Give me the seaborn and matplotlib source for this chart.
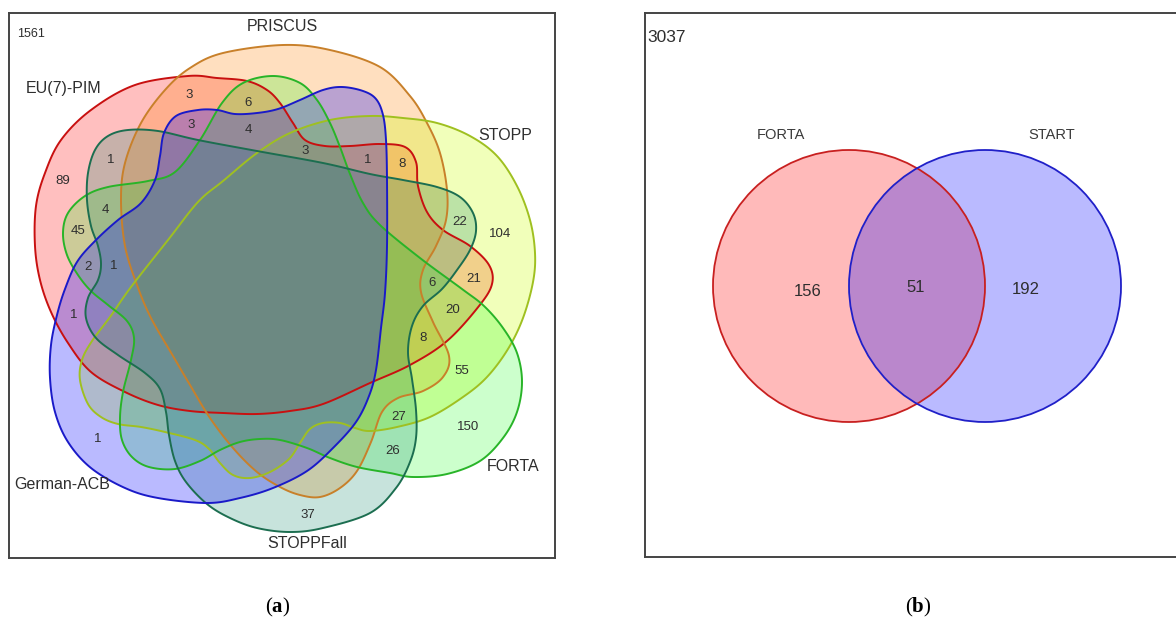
import numpy as np
import matplotlib
matplotlib.use("Agg")
import matplotlib.pyplot as plt
from matplotlib.patches import Polygon, Ellipse
import seaborn as sns

# ---------------- data ----------------
# (a) six-list overlap of potentially inappropriate medication lists
sets_a = ["EU(7)-PIM", "PRISCUS", "STOPP", "FORTA", "STOPPFall", "German-ACB"]
region_counts_a = [3, 6, 3, 4, 3, 1, 8, 1, 89, 4, 45, 2, 1,
                   22, 104, 6, 21, 20, 8, 55, 27, 150, 26, 37, 1, 1]
outside_a = 1561

# (b) FORTA vs START
sets_b = ["FORTA", "START"]
region_counts_b = [156, 51, 192]   # FORTA only, both, START only
outside_b = 3037

# ---------------- layout ----------------
# outline nodes of each set shape (panel units, y grows downward)
outline_nodes = {
    "EU(7)-PIM": [(188, 76), (217, 78), (247, 81), (267, 90), (280, 103), (293, 123), (305, 140),
                  (325, 146), (350, 146), (380, 144), (405, 147), (416, 162), (418, 186), (427, 212),
                  (443, 230), (470, 246), (489, 265), (492, 284), (479, 306), (447, 341), (410, 365),
                  (370, 383), (323, 404), (290, 411), (257, 414), (223, 413), (190, 411), (158, 405),
                  (125, 392), (91, 372), (68, 343), (51, 312), (40, 280), (35, 246), (36, 206),
                  (45, 173), (61, 140), (91, 110), (135, 85)],
    "PRISCUS": [(190, 68), (223, 53), (283, 45), (330, 50), (380, 67), (410, 96), (427, 123),
                (440, 153), (447, 190), (446, 220), (436, 246), (423, 270), (421, 292), (433, 322),
                (449, 356), (443, 377), (423, 391), (398, 398), (382, 412), (371, 442), (357, 471),
                (340, 488), (320, 497), (300, 495), (280, 487), (257, 472), (233, 448), (210, 418),
                (190, 385), (173, 356), (151, 318), (137, 285), (125, 246), (121, 200), (125, 163),
                (141, 123), (165, 90)],
    "STOPP": [(131, 287), (168, 240), (198, 202), (223, 181), (257, 153), (290, 133), (330, 120),
              (370, 116), (403, 118), (437, 123), (470, 136), (497, 156), (517, 186), (530, 220),
              (535, 253), (533, 282), (523, 318), (508, 349), (487, 377), (463, 397), (430, 417),
              (397, 427), (370, 431), (355, 428), (340, 423), (323, 423), (310, 429), (300, 443),
              (289, 459), (270, 472), (250, 478), (233, 475), (220, 463), (209, 449), (195, 440),
              (165, 432), (141, 427), (118, 424), (101, 417), (88, 404), (80, 380), (82, 360),
              (92, 341), (110, 317)],
    "FORTA": [(175, 172), (200, 140), (222, 103), (243, 83), (273, 76), (300, 83), (317, 100),
              (330, 123), (340, 147), (350, 174), (363, 203), (380, 225), (420, 258), (462, 289),
              (484, 306), (503, 328), (517, 353), (522, 382), (517, 412), (503, 438), (480, 461),
              (447, 474), (413, 477), (390, 473), (357, 467), (330, 458), (307, 448), (280, 440),
              (260, 439), (240, 442), (220, 450), (200, 461), (175, 469), (149, 467), (132, 457),
              (122, 440), (120, 418), (123, 392), (131, 360), (134, 338), (127, 321), (108, 305),
              (91, 291), (78, 275), (67, 255), (63, 233), (68, 213), (85, 196), (108, 187),
              (148, 181)],
    "STOPPFall": [(128, 130), (158, 131), (198, 140), (257, 151), (323, 163), (370, 174),
                  (403, 180), (437, 187), (460, 197), (473, 213), (476, 231), (470, 250), (457, 270),
                  (442, 289), (423, 306), (412, 326), (408, 352), (412, 379), (416, 410), (416, 438),
                  (410, 462), (396, 488), (370, 513), (323, 528), (290, 532), (257, 528), (230, 518),
                  (207, 504), (186, 482), (175, 461), (169, 435), (166, 412), (160, 389), (145, 373),
                  (118, 355), (96, 338), (86, 318), (88, 298), (98, 280), (101, 264), (98, 246),
                  (91, 226), (87, 200), (88, 173), (95, 150), (108, 136)],
    "German-ACB": [(198, 110), (217, 110), (235, 114), (257, 113), (278, 109), (300, 100),
                   (323, 90), (342, 87), (363, 91), (376, 99), (383, 115), (386, 140), (387, 180),
                   (387, 246), (385, 293), (381, 328), (376, 370), (369, 396), (356, 422), (333, 448),
                   (307, 471), (273, 488), (240, 498), (207, 503), (158, 498), (125, 488), (91, 468),
                   (68, 442), (55, 412), (50, 378), (51, 345), (57, 315), (65, 289), (77, 262),
                   (95, 241), (118, 220), (141, 203), (155, 180), (160, 156), (164, 133), (176, 116)],
}
fill_colors = {"EU(7)-PIM": "#ff0000", "PRISCUS": "#ff8000", "STOPP": "#ccff00",
               "FORTA": "#00ff00", "STOPPFall": "#008060", "German-ACB": "#0000ff"}
fill_alpha = {"EU(7)-PIM": 0.25, "PRISCUS": 0.25, "STOPP": 0.27,
              "FORTA": 0.20, "STOPPFall": 0.22, "German-ACB": 0.27}
edge_colors = {"EU(7)-PIM": "#c81010", "PRISCUS": "#c8802a", "STOPP": "#9fc020",
               "FORTA": "#28b428", "STOPPFall": "#1c6e50", "German-ACB": "#1a1ac8"}
name_pos_a = [(64, 89), (282, 27), (505, 136), (513, 467), (307, 544), (62, 485)]
region_pos_a = [(189, 95), (248, 103), (191, 125), (248, 130), (305, 151), (368, 160),
                (402, 164), (111, 160), (63, 181), (105, 210), (78, 231), (88, 267),
                (114, 266), (460, 222), (500, 234), (432, 283), (474, 279), (453, 310),
                (423, 338), (462, 371), (399, 417), (468, 427), (393, 451), (308, 515),
                (74, 315), (98, 439)]

ellipses_b = [((849, 286), 272, 272), ((985, 286), 272, 272)]
colors_b = [("#ff0000", "#c82020"), ("#0000ff", "#2020c8")]
name_pos_b = [(781, 135), (1052, 135)]
region_pos_b = [(808, 292), (916, 288), (1026, 290)]


def closed_spline(nodes, per_seg=24):
    """Closed Catmull-Rom curve through the given nodes."""
    p = np.asarray(nodes, dtype=float)
    n = len(p)
    t = np.linspace(0, 1, per_seg, endpoint=False)[:, None]
    out = []
    for i in range(n):
        p0, p1, p2, p3 = p[i - 1], p[i], p[(i + 1) % n], p[(i + 2) % n]
        seg = 0.5 * ((2 * p1) + (-p0 + p2) * t + (2 * p0 - 5 * p1 + 4 * p2 - p3) * t ** 2
                     + (-p0 + 3 * p1 - 3 * p2 + p3) * t ** 3)
        out.append(seg)
    return np.vstack(out)


# ---------------- style ----------------
sns.set_theme(style="white")
plt.rcParams["font.family"] = ["Liberation Sans", "DejaVu Sans"]
plt.rcParams["mathtext.fontset"] = "custom"
plt.rcParams["mathtext.rm"] = "Liberation Serif"
plt.rcParams["mathtext.bf"] = "Liberation Serif:bold"

W, H = 1176, 624
fig = plt.figure(figsize=(W / 100, H / 100), dpi=100)
fig.patch.set_facecolor("white")


def panel(x0, y0, x1, y1):
    ax = fig.add_axes([x0 / W, 1 - y1 / H, (x1 - x0) / W, (y1 - y0) / H])
    ax.set_xlim(x0, x1)
    ax.set_ylim(y1, y0)
    ax.set_xticks([])
    ax.set_yticks([])
    for s in ax.spines.values():
        s.set_visible(True)
        s.set_color("#444444")
        s.set_linewidth(1.4)
    ax.set_facecolor("white")
    return ax


txt_col = "#2e2e2e"

# ---- panel (a) ----
ax = panel(9, 13, 555, 558)
curves = {name: closed_spline(outline_nodes[name]) for name in sets_a}
for name in sets_a:
    ax.add_patch(Polygon(curves[name], closed=True, facecolor=fill_colors[name],
                         alpha=fill_alpha[name], edgecolor="none"))
for name in sets_a:
    ax.add_patch(Polygon(curves[name], closed=True, facecolor="none",
                         edgecolor=edge_colors[name], linewidth=1.4))
for name, (x, y) in zip(sets_a, name_pos_a):
    ax.text(x, y, name, ha="center", va="center", fontsize=11.5, color=txt_col)
for v, (x, y) in zip(region_counts_a, region_pos_a):
    ax.text(x, y, str(v), ha="center", va="center", fontsize=9.5, color=txt_col)
ax.text(31, 34, str(outside_a), ha="center", va="center", fontsize=9, color=txt_col)

# ---- panel (b) ----
bx = panel(645, 13, 1186, 557)
for ((cx, cy), w, h), (fc, ec) in zip(ellipses_b, colors_b):
    bx.add_patch(Ellipse((cx, cy), w, h, facecolor=fc, alpha=0.27, edgecolor="none"))
for ((cx, cy), w, h), (fc, ec) in zip(ellipses_b, colors_b):
    bx.add_patch(Ellipse((cx, cy), w, h, facecolor="none", edgecolor=ec, linewidth=1.3))
for name, (x, y) in zip(sets_b, name_pos_b):
    bx.text(x, y, name, ha="center", va="center", fontsize=10.5, color="#3a3a3a")
for v, (x, y) in zip(region_counts_b, region_pos_b):
    bx.text(x, y, str(v), ha="center", va="center", fontsize=12, color=txt_col)
bx.text(647, 37, str(outside_b), ha="left", va="center", fontsize=12.5, color=txt_col)

# ---- captions ----
fig.text(278 / W, 1 - 607 / H, r"($\mathbf{a}$)", ha="center", va="center",
         fontsize=15, family="Liberation Serif", color="black")
fig.text(918 / W, 1 - 607 / H, r"($\mathbf{b}$)", ha="center", va="center",
         fontsize=15, family="Liberation Serif", color="black")

fig.savefig("out.png", dpi=100, facecolor="white")
